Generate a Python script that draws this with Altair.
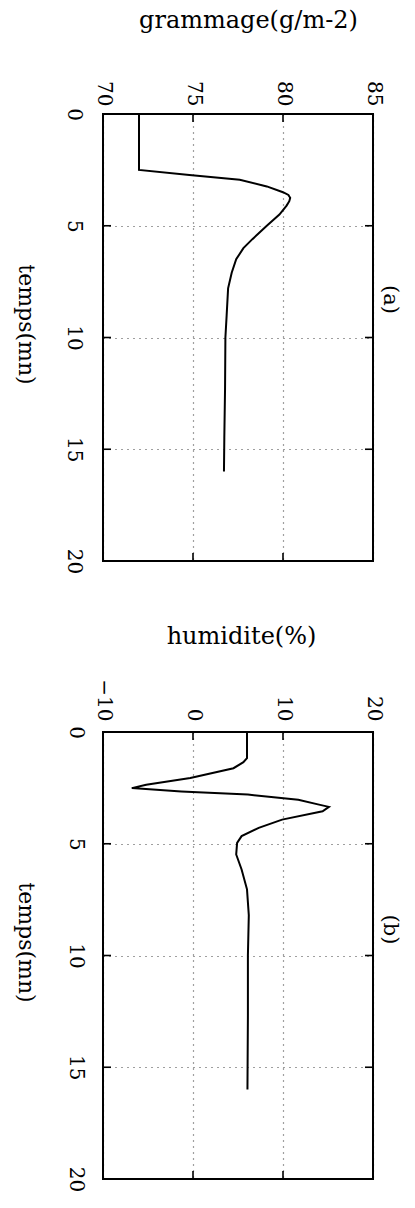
import altair as alt
import pandas as pd

# Panel (a): grammage (g/m-2) against time (mn)
temps_a = [0, 2.5, 2.73, 2.94, 3.24, 3.5, 3.62, 3.75, 3.9, 4.1, 4.5, 5.0, 5.6,
           6.0, 6.5, 7.1, 7.8, 9.0, 10.0, 12.3, 14.5, 16.0]
grammage = [72.0, 72.0, 74.8, 77.6, 79.1, 80.0, 80.3, 80.4, 80.35, 80.2, 79.8,
            79.1, 78.3, 77.8, 77.4, 77.15, 76.95, 76.87, 76.8, 76.78, 76.74,
            76.72]

# Panel (b): humidite (%) against time (mn)
temps_b = [0, 1.17, 1.35, 1.62, 2.06, 2.36, 2.51, 2.66, 2.8, 3.03, 3.25, 3.35,
           3.55, 3.92, 4.29, 4.66, 4.96, 5.48, 6.15, 7.04, 8.2, 10.0, 12.7, 16.0]
humidite = [6.0, 6.0, 5.6, 4.5, -0.3, -5.2, -6.8, -1.3, 6.1, 11.7, 14.0, 15.1,
            14.4, 9.9, 7.3, 5.4, 4.9, 4.8, 5.4, 6.0, 6.2, 6.1, 6.1, 6.05]

grammage_ticks = [70, 75, 80, 85]
humidite_ticks = [-10, 0, 10, 20]
temps_ticks = [0, 5, 10, 15, 20]

W, H = 270, 447
FONT = "DejaVu Serif"
TICK = 8
GRID = dict(grid=True, gridDash=[1, 5], gridColor="black", gridOpacity=0.75,
            gridWidth=1.2)


def panel(temps, values, field, domain, vticks, xtitle, tag, opts):
    df = pd.DataFrame({"temps": temps, field: values})
    vt = pd.DataFrame({field: vticks})
    tt = pd.DataFrame({"temps": temps_ticks})

    xscale = alt.Scale(domain=domain, nice=False, zero=False)
    yscale = alt.Scale(domain=[0, 20], reverse=True, nice=False, zero=False)

    x = alt.X(f"{field}:Q", scale=xscale, axis=alt.Axis(
        orient="top", values=vticks, title=xtitle, labelAngle=90,
        labelAlign="right", labelBaseline="middle",
        labelPadding=opts["xpad"], ticks=False, domain=False,
        titleAngle=0, titleX=opts["xtx"], titleY=opts["xty"],
        titleFontSize=24, titleAlign="center", titleBaseline="middle",
        **GRID))
    y = alt.Y("temps:Q", scale=yscale, axis=alt.Axis(
        orient="left", values=temps_ticks, title="temps(mn)", labelAngle=90,
        labelAlign="center", labelBaseline="top",
        labelPadding=opts["ypad"], ticks=False, domain=False,
        titleAngle=90, titleX=-78, titleY=210, titleFontSize=22,
        titleAlign="center", titleBaseline="middle", **GRID))

    curve = alt.Chart(df).mark_line(color="black", strokeWidth=2).encode(
        x=x, y=y, order="temps:Q")

    # short inward ticks on all four sides of the frame
    tick_style = dict(color="black", strokeWidth=1.6)
    top = alt.Chart(vt).mark_rule(**tick_style).encode(
        x=x, y=alt.value(0), y2=alt.value(TICK))
    bottom = alt.Chart(vt).mark_rule(**tick_style).encode(
        x=x, y=alt.value(H - TICK), y2=alt.value(H))
    left = alt.Chart(tt).mark_rule(**tick_style).encode(
        y=y, x=alt.value(0), x2=alt.value(TICK))
    right = alt.Chart(tt).mark_rule(**tick_style).encode(
        y=y, x=alt.value(W - TICK), x2=alt.value(W))

    return alt.layer(curve, top, bottom, left, right).properties(
        width=W, height=H,
        title=alt.TitleParams(tag, orient="right", anchor="middle",
                              dx=opts["tdx"], offset=-3, font=FONT,
                              fontSize=21, fontWeight="normal", color="black"),
    )


chart_a = panel(temps_a, grammage, "grammage", [70, 85], grammage_ticks,
                "grammage(g/m-2)", "(a)",
                dict(xpad=8, xtx=145, xty=-94, ypad=20, tdx=-38))
chart_b = panel(temps_b, humidite, "humidite", [-10, 20], humidite_ticks,
                "humidite(%)", "(b)",
                dict(xpad=11, xtx=138, xty=-96, ypad=18, tdx=-26))

chart = alt.concat(
    chart_a, chart_b, columns=1, spacing=48,
    padding={"left": 13, "top": 7, "right": 0, "bottom": 0},
    background="white",
).configure_view(
    stroke="black", strokeWidth=2
).configure_axis(
    labelFont=FONT, labelFontSize=20, labelColor="black",
    titleFont=FONT, titleColor="black", titleFontWeight="normal",
)

chart.save("out.html", embed_options={"renderer": "svg", "actions": False})
